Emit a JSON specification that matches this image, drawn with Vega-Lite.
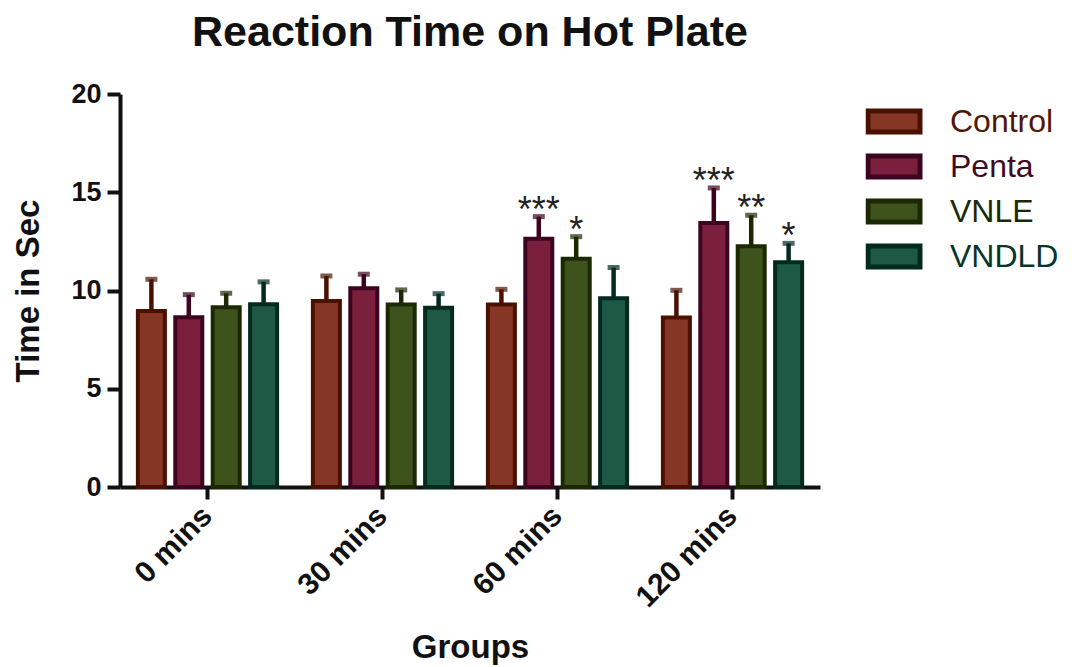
{
  "$schema": "https://vega.github.io/schema/vega-lite/v6.json",
  "width": 700,
  "height": 393,
  "autosize": {"type": "none"},
  "padding": {"left": 120, "top": 94, "right": 256, "bottom": 180},
  "background": "white",
  "config": {
    "view": {"stroke": null},
    "font": "Liberation Sans",
    "axisX": {
      "domainWidth": 4, "domainColor": "#111", "tickWidth": 4, "tickSize": 12, "tickColor": "#111",
      "labelFontSize": 30, "labelFontWeight": "bold", "labelAngle": -45, "labelColor": "#111", "labelPadding": 12,
      "labelBaseline": "middle", "labelAlign": "right",
      "labelFont": "Liberation Sans",
      "titleFontSize": 33, "titleFontWeight": "bold", "titleColor": "#111", "titleFont": "Liberation Sans",
      "titleY": 170, "titleBaseline": "alphabetic", "grid": false, "zindex": 1
    },
    "axisY": {
      "domainWidth": 4, "domainColor": "#111", "tickWidth": 4, "tickSize": 13, "tickColor": "#111",
      "labelFontSize": 27, "labelFontWeight": "bold", "labelColor": "#111", "labelPadding": 6,
      "labelFont": "Liberation Sans", "tickCount": 4,
      "titleFontSize": 33, "titleFontWeight": "bold", "titleColor": "#111", "titleFont": "Liberation Sans",
      "titleX": -82, "titleY": 196.5, "titleBaseline": "alphabetic", "titleAngle": -90, "titleAlign": "center",
      "grid": false, "zindex": 1
    }
  },
  "title": {
    "text": "Reaction Time on Hot Plate",
    "fontSize": 43, "fontWeight": "bold", "font": "Liberation Sans", "color": "#111",
    "anchor": "middle", "frame": "group", "baseline": "alphabetic", "offset": -9
  },
  "data": {
    "values": [
      {"time": "0 mins", "group": "Control", "mean": 8.96, "upper": 10.57, "sig": ""},
      {"time": "0 mins", "group": "Penta", "mean": 8.64, "upper": 9.79, "sig": ""},
      {"time": "0 mins", "group": "VNLE", "mean": 9.15, "upper": 9.86, "sig": ""},
      {"time": "0 mins", "group": "VNDLD", "mean": 9.30, "upper": 10.44, "sig": ""},
      {"time": "30 mins", "group": "Control", "mean": 9.46, "upper": 10.74, "sig": ""},
      {"time": "30 mins", "group": "Penta", "mean": 10.12, "upper": 10.83, "sig": ""},
      {"time": "30 mins", "group": "VNLE", "mean": 9.29, "upper": 10.03, "sig": ""},
      {"time": "30 mins", "group": "VNDLD", "mean": 9.12, "upper": 9.84, "sig": ""},
      {"time": "60 mins", "group": "Control", "mean": 9.29, "upper": 10.06, "sig": ""},
      {"time": "60 mins", "group": "Penta", "mean": 12.63, "upper": 13.76, "sig": "***"},
      {"time": "60 mins", "group": "VNLE", "mean": 11.61, "upper": 12.74, "sig": "*"},
      {"time": "60 mins", "group": "VNDLD", "mean": 9.61, "upper": 11.17, "sig": ""},
      {"time": "120 mins", "group": "Control", "mean": 8.63, "upper": 10.01, "sig": ""},
      {"time": "120 mins", "group": "Penta", "mean": 13.44, "upper": 15.22, "sig": "***"},
      {"time": "120 mins", "group": "VNLE", "mean": 12.25, "upper": 13.83, "sig": "**"},
      {"time": "120 mins", "group": "VNDLD", "mean": 11.44, "upper": 12.40, "sig": "*"}
    ]
  },
  "encoding": {
    "x": {
      "field": "time", "type": "nominal", "title": "Groups",
      "sort": ["0 mins", "30 mins", "60 mins", "120 mins"],
      "scale": {"paddingInner": 0.1429, "paddingOuter": 0.0714}
    },
    "xOffset": {
      "field": "group", "type": "nominal",
      "sort": ["Control", "Penta", "VNLE", "VNDLD"],
      "scale": {"paddingInner": 0.278, "paddingOuter": 0.144}
    }
  },
  "layer": [
    {
      "mark": {"type": "bar", "strokeWidth": 4, "strokeJoin": "miter"},
      "encoding": {
        "y": {"field": "mean", "type": "quantitative", "title": "Time in Sec", "scale": {"domain": [0, 20], "nice": false}},
        "color": {
          "field": "group", "type": "nominal",
          "scale": {"domain": ["Control", "Penta", "VNLE", "VNDLD"], "range": ["#863624", "#7a1f3c", "#3e531c", "#1d5945"]},
          "legend": {
            "orient": "none", "legendX": 745.5, "legendY": 5, "title": null, "padding": 0,
            "symbolType": "M-1,-0.4H1V0.4H-1Z", "symbolSize": 2704, "symbolStrokeWidth": 5,
            "labelFontSize": 32, "labelOffset": 27.5, "rowPadding": 0, "clipHeight": 45, "labelLimit": 300,
            "labelFont": "Liberation Sans",
            "encode": {"labels": {"update": {"fill": {"signal": "datum.value === 'Control' ? '#521607' : datum.value === 'Penta' ? '#400a25' : datum.value === 'VNLE' ? '#1b2a06' : '#08352a'"}}}}
          }
        },
        "stroke": {
          "field": "group", "type": "nominal",
          "scale": {"domain": ["Control", "Penta", "VNLE", "VNDLD"], "range": ["#4b1100", "#3d0420", "#1b2802", "#032a1f"]},
          "legend": {
            "orient": "none", "legendX": 745.5, "legendY": 5, "title": null, "padding": 0,
            "symbolType": "M-1,-0.4H1V0.4H-1Z", "symbolSize": 2704, "symbolStrokeWidth": 5,
            "labelFontSize": 32, "labelOffset": 27.5, "rowPadding": 0, "clipHeight": 45, "labelLimit": 300,
            "labelFont": "Liberation Sans",
            "encode": {"labels": {"update": {"fill": {"signal": "datum.value === 'Control' ? '#521607' : datum.value === 'Penta' ? '#400a25' : datum.value === 'VNLE' ? '#1b2a06' : '#08352a'"}}}}
          }
        }
      }
    },
    {
      "mark": {"type": "rule", "strokeWidth": 4.5},
      "encoding": {
        "y": {"field": "mean", "type": "quantitative", "title": "Time in Sec"},
        "y2": {"field": "upper"},
        "stroke": {"field": "group", "type": "nominal"}
      }
    },
    {
      "mark": {"type": "tick", "size": 12, "thickness": 5},
      "encoding": {
        "y": {"field": "upper", "type": "quantitative", "title": "Time in Sec"},
        "fill": {
          "field": "group", "type": "nominal", "legend": null,
          "scale": {"domain": ["Control", "Penta", "VNLE", "VNDLD"], "range": ["#4b1100", "#3d0420", "#1b2802", "#032a1f"]}
        }
      }
    },
    {
      "mark": {"type": "text", "fontSize": 36, "baseline": "alphabetic", "dy": 5, "color": "#222", "font": "Liberation Sans"},
      "encoding": {
        "y": {"field": "upper", "type": "quantitative", "title": "Time in Sec"},
        "text": {"field": "sig"}
      }
    }
  ]
}
